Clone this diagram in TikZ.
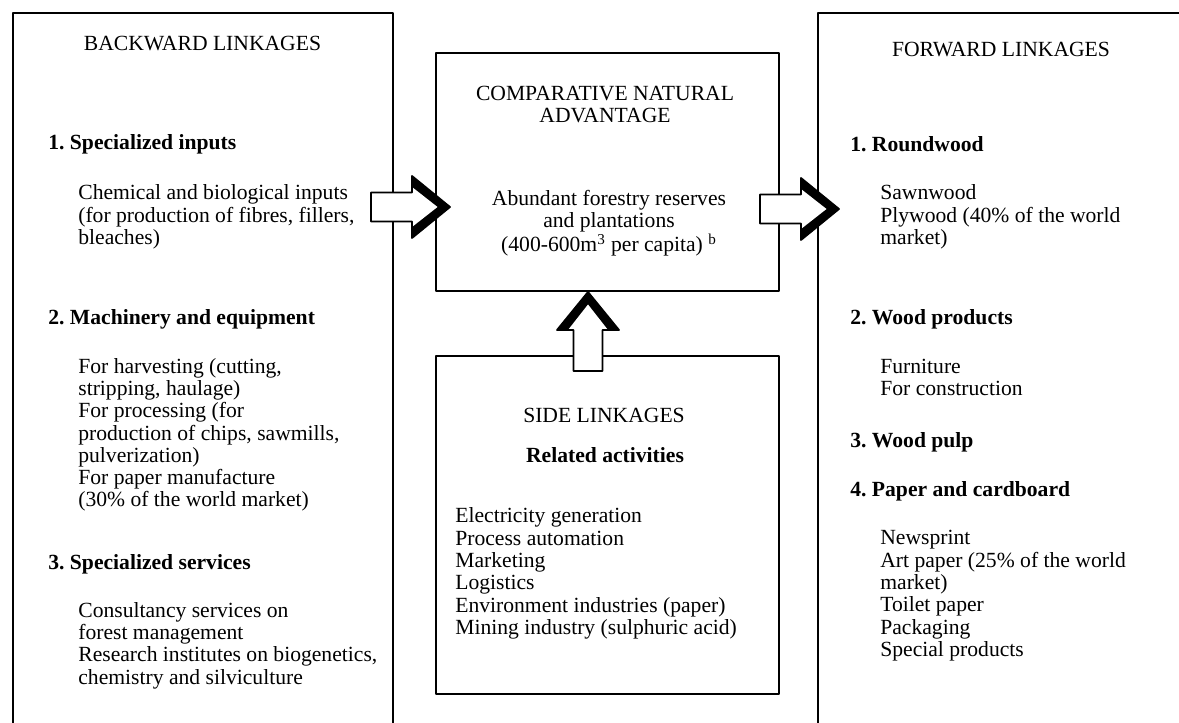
\documentclass[tikz,border=0pt]{standalone}
\usepackage{fontspec}
\setmainfont{Liberation Serif}
\usepackage{tikz}
\usetikzlibrary{calc}
\frenchspacing

% hollow block arrow with a heavy head, tip at #1, turned by #2
\newcommand{\fatarrow}[2]{%
\begin{scope}[shift={(#1)},rotate=#2]
\fill[white] (0,0) -- (-0.76,0.62) -- (-0.76,0.29) -- (-1.58,0.29) -- (-1.58,-0.29) -- (-0.76,-0.29) -- (-0.76,-0.62) -- cycle;
\fill (0,0) -- (-0.76,0.62) -- (-0.76,-0.62) -- cycle;
\fill[white] (-0.25,0) -- (-0.76,0.40) -- (-0.76,-0.40) -- cycle;
\draw[line width=1pt] (0,0) -- (-0.76,0.62) -- (-0.76,0.29) -- (-1.58,0.29) -- (-1.58,-0.29) -- (-0.76,-0.29) -- (-0.76,-0.62) -- cycle;
\end{scope}}

\begin{document}
\begin{tikzpicture}[line cap=round,line join=round,x=1.0cm,y=1.0cm,
  box/.style={draw,line width=1pt,inner sep=0pt,anchor=north west},
  txt/.style={inner sep=0pt,anchor=base west,align=left,font=\fontsize{12.3}{12.7}\selectfont},
  head/.style={txt,font=\fontsize{12.3}{12.7}\selectfont\bfseries},
  ttl/.style={txt,anchor=base,align=center}]
\useasboundingbox (0,0) rectangle (23.58,14.46);
\clip (0,0) rectangle (23.58,14.46);
% boxes
\node[box,minimum width=7.6cm,minimum height=15cm] (back) at (0.24,14.22) {};
\node[box,minimum width=6.86cm,minimum height=4.76cm] (adv) at (8.70,13.42) {};
\node[box,minimum width=6.86cm,minimum height=6.76cm] (side) at (8.70,7.36) {};
\node[box,minimum width=8cm,minimum height=15cm] (fwd) at (16.34,14.22) {};
% arrows
\coordinate (tipB) at (9.00,10.32);
\coordinate (tipF) at (16.78,10.28);
\coordinate (tipS) at (11.76,8.62);
\fatarrow{tipB}{0}
\fatarrow{tipF}{0}
\fatarrow{tipS}{90}
% backward linkages (base = last line)
\node[ttl] (backT) at (4.05,13.44) {BACKWARD LINKAGES};
\node[head] (back1) at (0.96,11.46) {1. Specialized inputs};
\node[txt] (back1a) at (1.56,9.57) {Chemical and biological inputs\\(for production of fibres, fillers,\\bleaches)};
\node[head] (back2) at (0.96,7.96) {2. Machinery and equipment};
\node[txt] (back2a) at (1.56,4.32) {For harvesting (cutting,\\stripping, haulage)\\For processing (for\\production of chips, sawmills,\\pulverization)\\For paper manufacture\\(30\% of the world market)};
\node[head] (back3) at (0.96,3.06) {3. Specialized services};
\node[txt] (back3a) at (1.56,0.78) {Consultancy services on\\forest management\\Research institutes on biogenetics,\\chemistry and silviculture};
% comparative natural advantage
\node[ttl] (advT) at (12.10,12.0) {COMPARATIVE NATURAL\\ADVANTAGE};
\node[ttl] (adv1) at (12.18,9.42) {Abundant forestry reserves\\and plantations\\(400-600m\textsuperscript{3} per capita)~\textsuperscript{b}};
% side linkages
\node[ttl] (sideT) at (12.08,6.00) {SIDE LINKAGES};
\node[ttl,font=\fontsize{12.3}{12.7}\selectfont\bfseries] (side1) at (12.10,5.20) {Related activities};
\node[txt] (side1a) at (9.10,1.77) {Electricity generation\\Process automation\\Marketing\\Logistics\\Environment industries (paper)\\Mining industry (sulphuric acid)};
% forward linkages
\node[ttl] (fwdT) at (20.02,13.32) {FORWARD LINKAGES};
\node[head] (fwd1) at (17.00,11.42) {1. Roundwood};
\node[txt] (fwd1a) at (17.60,9.57) {Sawnwood\\Plywood (40\% of the world\\market)};
\node[head] (fwd2) at (17.00,7.96) {2. Wood products};
\node[txt] (fwd2a) at (17.60,6.55) {Furniture\\For construction};
\node[head] (fwd3) at (17.00,5.50) {3. Wood pulp};
\node[head] (fwd4) at (17.00,4.52) {4. Paper and cardboard};
\node[txt] (fwd4a) at (17.60,1.33) {Newsprint\\Art paper (25\% of the world\\market)\\Toilet paper\\Packaging\\Special products};
\end{tikzpicture}
\end{document}
